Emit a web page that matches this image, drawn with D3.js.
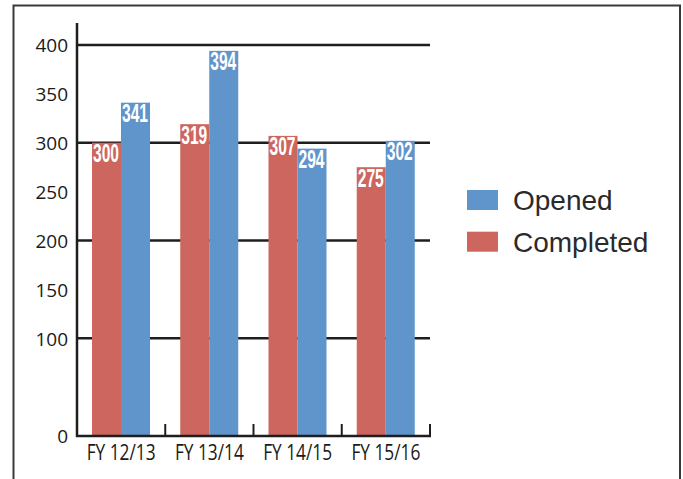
<!DOCTYPE html>
<html>
<head>
<meta charset="utf-8">
<script src="https://cdn.jsdelivr.net/npm/d3@7"></script>
<style>
  body { margin: 0; background: #fff; }
  svg { display: block; }
</style>
</head>
<body>
<div id="chart"></div>
<script>
var width = 683;
var height = 479;

var categories = ["FY 12/13", "FY 13/14", "FY 14/15", "FY 15/16"];
var seriesNames = ["Completed", "Opened"];
var completed = [300, 319, 307, 275];
var opened = [341, 394, 294, 302];
var yTicks = [0, 100, 150, 200, 250, 300, 350, 400];
var gridTicks = [100, 200, 300, 400];
var legendOrder = ["Opened", "Completed"];

var colors = { Completed: "#cd665e", Opened: "#5f95cb" };
var values = { Completed: completed, Opened: opened };

var svg = d3.select("#chart")
  .append("svg")
  .attr("width", width)
  .attr("height", height);

// outer frame (open at bottom)
svg.append("path")
  .attr("d", "M13.5,479 L13.5,5.5 L680,5.5 L680,479")
  .attr("fill", "none")
  .attr("stroke", "#3a3a3a")
  .attr("stroke-width", 2);

var y = d3.scaleLinear().domain([0, 400]).range([436, 45]);
var x0 = d3.scaleBand().domain(categories).range([77, 430]).padding(0);
var x1 = d3.scaleBand().domain(seriesNames).range([15, 73]).padding(0);

// gridlines
svg.append("g")
  .selectAll("line")
  .data(gridTicks)
  .enter()
  .append("line")
  .attr("x1", 77)
  .attr("x2", 430)
  .attr("y1", (d) => y(d))
  .attr("y2", (d) => y(d))
  .attr("stroke", "#1e1e1e")
  .attr("stroke-width", 2.5);

// bars
var groups = svg.append("g")
  .selectAll("g")
  .data(categories)
  .enter()
  .append("g")
  .attr("transform", (d) => `translate(${x0(d)},0)`);

var bars = groups.selectAll("g")
  .data((d, i) => seriesNames.map((s) => ({ series: s, value: values[s][i] })))
  .enter()
  .append("g");

bars.append("rect")
  .attr("x", (d) => x1(d.series))
  .attr("y", (d) => y(d.value))
  .attr("width", x1.bandwidth())
  .attr("height", (d) => y(0) - y(d.value))
  .attr("fill", (d) => colors[d.series]);

bars.append("text")
  .text((d) => d.value)
  .attr("x", (d) => x1(d.series) + x1.bandwidth() / 2 - 0.5)
  .attr("y", (d) => y(d.value) + 19.5)
  .attr("text-anchor", "middle")
  .attr("textLength", 26)
  .attr("lengthAdjust", "spacingAndGlyphs")
  .style("font-family", "'Liberation Sans', 'DejaVu Sans', sans-serif")
  .style("font-weight", "bold")
  .style("font-size", "25.5px")
  .style("fill", "#fff");

// y axis
var yAxis = svg.append("g")
  .attr("transform", "translate(77,0)")
  .call(d3.axisLeft(y).tickValues(yTicks).tickSize(0).tickPadding(9));
yAxis.select(".domain").remove();
yAxis.selectAll("text")
  .attr("dy", "0.36em")
  .style("font-family", "'Open Sans', sans-serif")
  .style("font-size", "19px")
  .style("fill", "#1a1a1a");

svg.append("line")
  .attr("x1", 77).attr("x2", 77)
  .attr("y1", 23).attr("y2", 437)
  .attr("stroke", "#1e1e1e")
  .attr("stroke-width", 2.5);

// x axis
var xAxis = svg.append("g")
  .attr("transform", "translate(0,436)")
  .call(d3.axisBottom(x0).tickSize(0).tickPadding(9));
xAxis.select(".domain").remove();
xAxis.selectAll("text")
  .attr("textLength", 69)
  .attr("lengthAdjust", "spacingAndGlyphs")
  .style("font-family", "'Open Sans', sans-serif")
  .style("font-size", "21px")
  .style("fill", "#1a1a1a");

svg.append("line")
  .attr("x1", 76).attr("x2", 431)
  .attr("y1", 436).attr("y2", 436)
  .attr("stroke", "#1e1e1e")
  .attr("stroke-width", 2.5);

svg.append("g")
  .selectAll("line")
  .data(categories)
  .enter()
  .append("line")
  .attr("x1", (d) => x0(d) + x0.bandwidth())
  .attr("x2", (d) => x0(d) + x0.bandwidth())
  .attr("y1", 424)
  .attr("y2", 436)
  .attr("stroke", "#1e1e1e")
  .attr("stroke-width", 2);

// legend
var legend = svg.append("g")
  .selectAll("g")
  .data(legendOrder)
  .enter()
  .append("g")
  .attr("transform", (d, i) => `translate(467,${190 + i * 41.7})`);

legend.append("rect")
  .attr("width", 31)
  .attr("height", 20)
  .attr("fill", (d) => colors[d]);

legend.append("text")
  .text((d) => d)
  .attr("x", 46)
  .attr("y", 20)
  .style("font-family", "'Liberation Sans', sans-serif")
  .style("font-size", "28px")
  .style("fill", "#2a2a2a");
</script>
</body>
</html>
